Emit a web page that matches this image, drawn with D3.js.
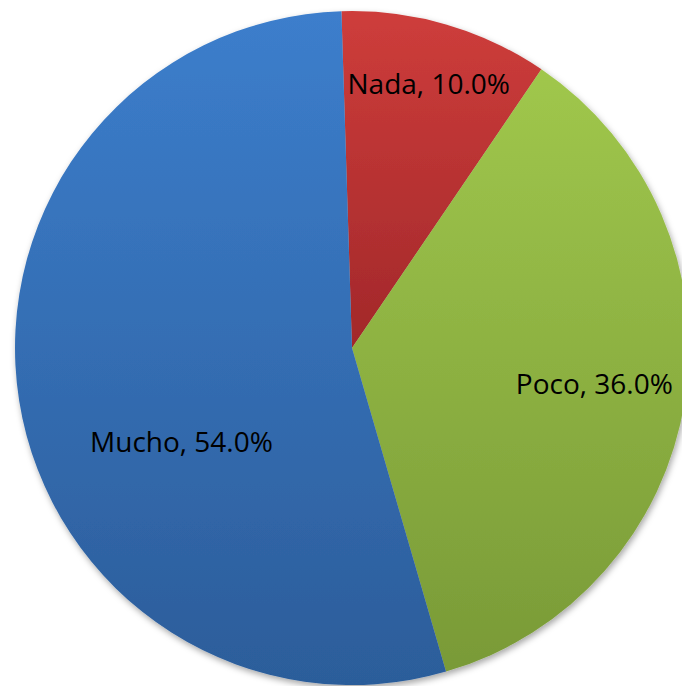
<!DOCTYPE html>
<html>
<head>
<meta charset="utf-8">
<script src="https://cdn.jsdelivr.net/npm/d3@7"></script>
<style>
  html, body { margin: 0; padding: 0; background: #fff; }
  svg { display: block; }
  .label { font-family: "Open Sans", "Noto Sans", sans-serif; fill: #000; }
</style>
</head>
<body>
<div id="chart"></div>
<script>
// chart data
var categories = ["Nada", "Poco", "Mucho"];
var values = [10.0, 36.0, 54.0];
var topColors = ["#ce3d3b", "#a0c74c", "#3c7ecc"];
var bottomColors = ["#a2282a", "#799a37", "#2c5d9a"];

var width = 682, height = 686;
var cx = 352, cy = 348, radius = 337;
var startOffset = -1.8 * Math.PI / 180;

// label placement: radius from centre and angle shift (degrees) from slice middle
var labelRadius = [275, 245, 195];
var labelShift = [0, -0.5, -20];

var svg = d3.select("#chart").append("svg")
  .attr("width", width)
  .attr("height", height);

var defs = svg.append("defs");

var shadow = defs.append("filter")
  .attr("id", "shadow")
  .attr("x", "-10%").attr("y", "-10%")
  .attr("width", "120%").attr("height", "120%");
shadow.append("feDropShadow")
  .attr("dx", 1.5).attr("dy", 3)
  .attr("stdDeviation", 3)
  .attr("flood-color", "#000")
  .attr("flood-opacity", 0.35);

categories.forEach(function(c, i) {
  var g = defs.append("linearGradient")
    .attr("id", "grad" + i)
    .attr("x1", 0).attr("y1", 0)
    .attr("x2", 0).attr("y2", 1);
  g.append("stop").attr("offset", "0%").attr("stop-color", topColors[i]);
  g.append("stop").attr("offset", "100%").attr("stop-color", bottomColors[i]);
});

var pie = d3.pie()
  .sort(null)
  .startAngle(startOffset)
  .endAngle(startOffset + 2 * Math.PI);

var arcs = pie(values);

var arc = d3.arc()
  .innerRadius(0)
  .outerRadius(radius);

var chart = svg.append("g")
  .attr("transform", "translate(" + cx + "," + cy + ")");

chart.append("g")
  .attr("filter", "url(#shadow)")
  .selectAll("path")
  .data(arcs)
  .enter()
  .append("path")
  .attr("d", arc)
  .attr("fill", function(d, i) { return "url(#grad" + i + ")"; });

// labels
chart.selectAll("text.label")
  .data(arcs)
  .enter()
  .append("text")
  .attr("class", "label")
  .attr("text-anchor", "middle")
  .attr("dy", "0.35em")
  .style("font-size", "28px")
  .attr("transform", function(d, i) {
    var a = (d.startAngle + d.endAngle) / 2 + labelShift[i] * Math.PI / 180;
    var r = labelRadius[i];
    return "translate(" + (r * Math.sin(a)) + "," + (-r * Math.cos(a)) + ")";
  })
  .text(function(d, i) { return categories[i] + ", " + values[i].toFixed(1) + "%"; });
</script>
</body>
</html>
